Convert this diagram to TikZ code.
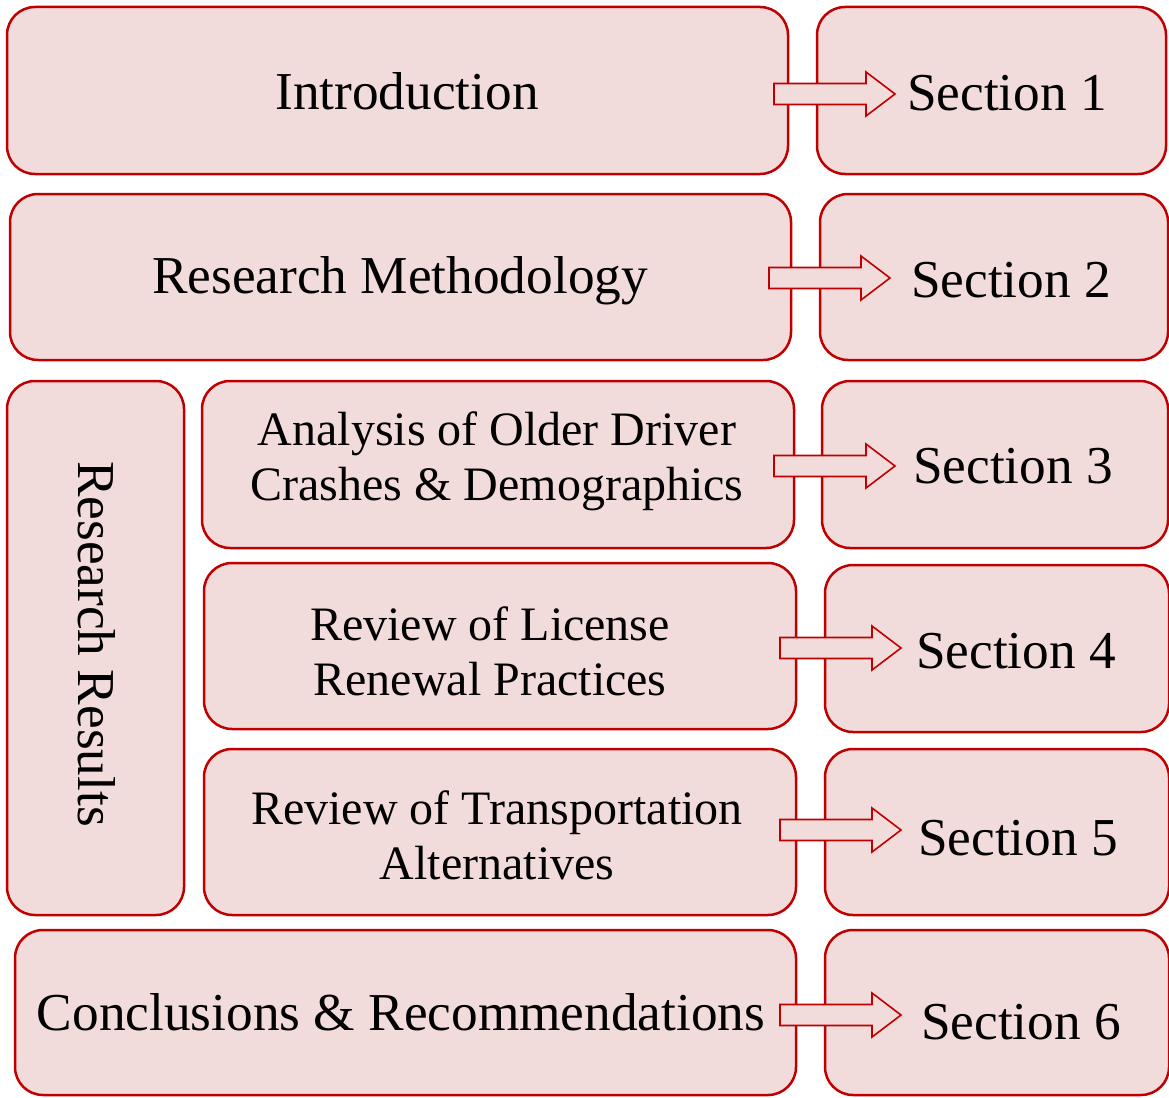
\documentclass[tikz,border=0pt]{standalone}
\usepackage{fontspec}
\setmainfont{Liberation Serif}
\definecolor{boxfill}{HTML}{F2DCDB}
\definecolor{boxline}{HTML}{C00000}
\begin{document}
\begin{tikzpicture}[x=1pt,y=-1pt,
  box/.style={draw=boxline, fill=boxfill, line width=2.5pt, rounded corners=28pt},
  big/.style={font=\fontsize{53.3}{60}\selectfont, inner sep=0pt, anchor=base},
  mid/.style={font=\fontsize{48}{55}\selectfont, align=center, inner sep=0pt},
  arrowshape/.style={draw=boxline, fill=boxfill, line width=1.6pt, line join=miter},
  pics/blockarrow/.style={code={
    \draw[arrowshape] (0,-10.5) -- (92,-10.5) -- (92,-22) -- (121,0) -- (92,22) -- (92,10.5) -- (0,10.5) -- cycle;
  }}]
\useasboundingbox (0,0) rectangle (1169,1097);
% left boxes
\draw[box] (7,7) rectangle (788,174);
\draw[box] (10,194) rectangle (791,360);
\draw[box] (7,381) rectangle (184,915);
\draw[box] (202,381) rectangle (794,548);
\draw[box] (204,563) rectangle (796,729);
\draw[box] (204,749) rectangle (796,915);
\draw[box] (15,930) rectangle (796,1095);
% right boxes
\draw[box] (817,7) rectangle (1166,174);
\draw[box] (820,194) rectangle (1168,360);
\draw[box] (822,381) rectangle (1168,548);
\draw[box] (825,565) rectangle (1169,732);
\draw[box] (825,749) rectangle (1169,915);
\draw[box] (825,930) rectangle (1169,1095);
% arrows
\pic at (774,94) {blockarrow};
\pic at (769,278) {blockarrow};
\pic at (774,466) {blockarrow};
\pic at (780,648) {blockarrow};
\pic at (780,830) {blockarrow};
\pic at (780,1015) {blockarrow};
% texts
\node[big] (t1) at (407,110) {Introduction};
\node[big] (t2) at (400,293) {Research Methodology};
\node[big, anchor=center, rotate=-90] (t3) at (97,644) {Research Results};
\node[mid] (t4) at (497,461) {Analysis of Older Driver\\Crashes \& Demographics};
\node[mid] (t5) at (490,651) {Review of License\\Renewal Practices};
\node[mid] (t6) at (497,835) {Review of Transportation\\Alternatives};
\node[big] (t7) at (401,1030) {Conclusions \& Recommendations};
\node[big] (s1) at (1007,111) {Section 1};
\node[big] (s2) at (1011,297) {Section 2};
\node[big] (s3) at (1013,483) {Section 3};
\node[big] (s4) at (1016,668) {Section 4};
\node[big] (s5) at (1018,855) {Section 5};
\node[big] (s6) at (1021,1039) {Section 6};
\end{tikzpicture}
\end{document}
